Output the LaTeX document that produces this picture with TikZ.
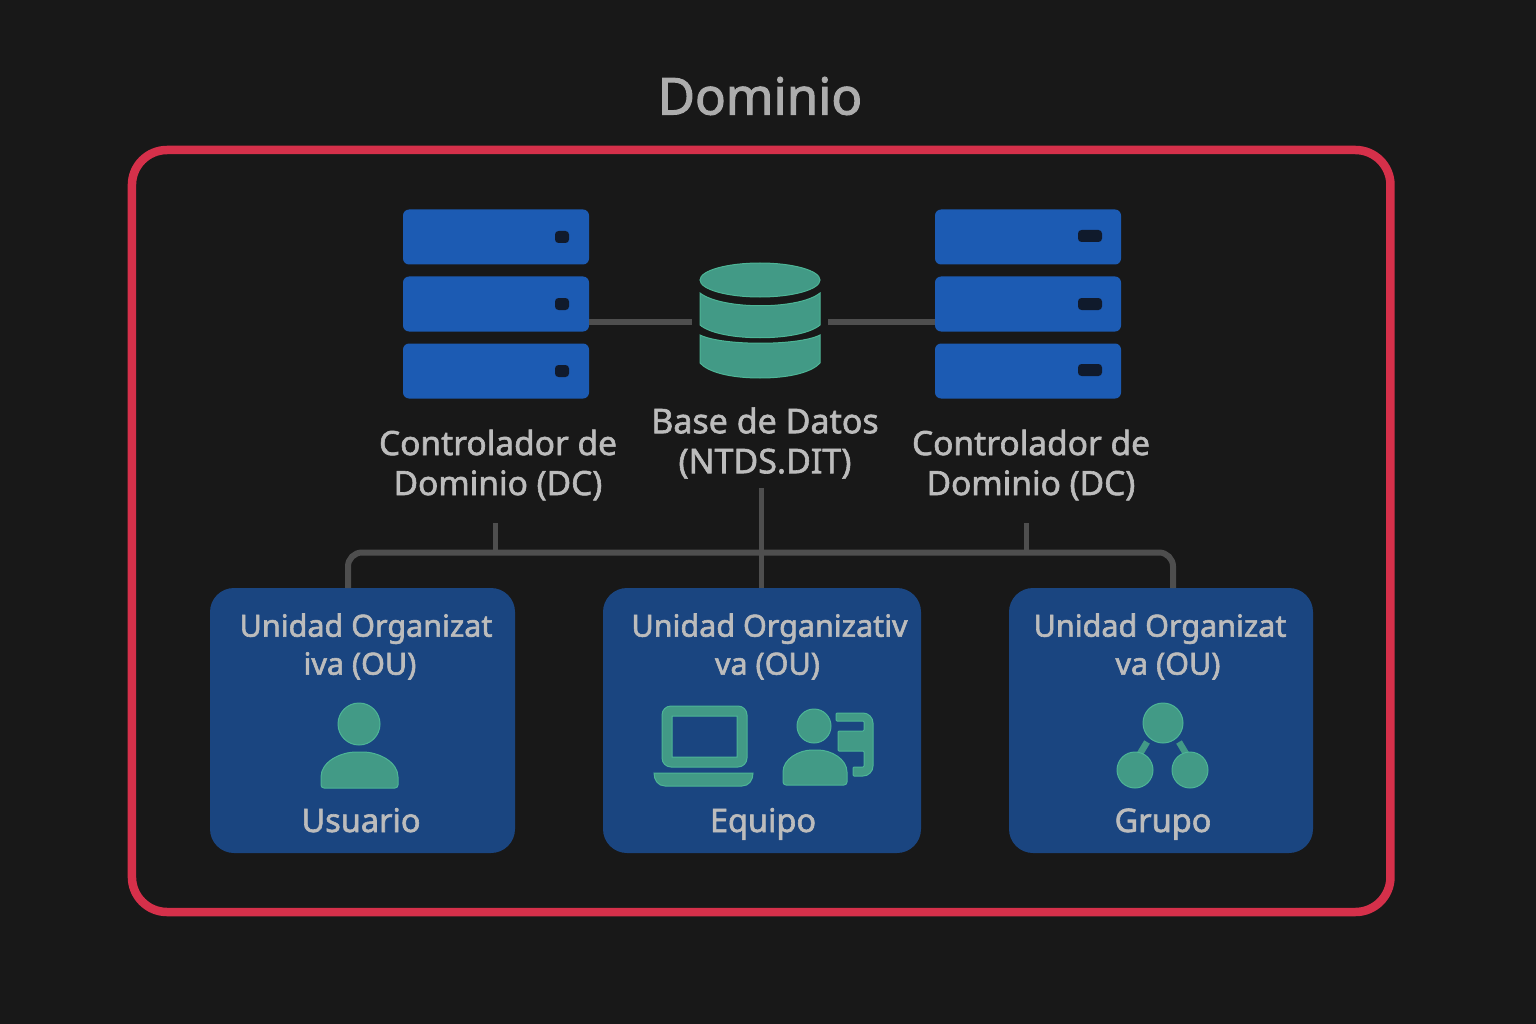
\documentclass[tikz,border=0pt]{standalone}
\usepackage{fontspec}
\setmainfont{Noto Sans}
\definecolor{bg}{HTML}{181818}
\definecolor{framered}{HTML}{D5304A}
\definecolor{srvblue}{HTML}{1C5BB3}
\definecolor{oublue}{HTML}{1A4580}
\definecolor{teal}{HTML}{429A86}
\definecolor{tealedge}{HTML}{4DB596}
\definecolor{wirec}{HTML}{4E4E4E}
\definecolor{txt}{HTML}{BCBCBC}
\definecolor{ledc}{HTML}{101A2C}
\tikzset{
  x=1pt,y=-1pt,
  heavy/.style={execute at begin node={\special{pdf:code 2 Tr #1 w}},execute at end node={\special{pdf:code 0 Tr}}},
  srv/.style={fill=srvblue,rounded corners=6pt,minimum width=186pt,minimum height=55pt,inner sep=0pt,outer sep=0pt},
  led/.style={fill=ledc,rounded corners=3.5pt,minimum height=12pt,inner sep=0pt,outer sep=0pt},
  oubox/.style={fill=oublue,rounded corners=24pt,inner sep=0pt,outer sep=0pt,minimum height=265pt},
  lbl/.style={heavy=0.6,text=txt,align=center,font=\fontsize{33.5}{40}\selectfont,inner sep=0pt},
  oulbl/.style={heavy=0.6,text=txt,align=center,font=\fontsize{30.5}{38}\selectfont,inner sep=0pt},
  itemlbl/.style={heavy=0.6,text=txt,font=\fontsize{32.5}{38}\selectfont,inner sep=0pt,anchor=base},
  wire/.style={draw=wirec,line width=5pt},
  icon/.style={fill=teal,draw=tealedge,line width=1pt},
}
\begin{document}
\begin{tikzpicture}
\useasboundingbox (0,0) rectangle (1536,1024);
\fill[bg] (0,0) rectangle (1536,1024);
\node[heavy=1,text=txt!92!black,font=\fontsize{51}{60}\selectfont,inner sep=0pt] (title) at (760,96) {Dominio};
\node[draw=framered,line width=8.5pt,rounded corners=35pt,minimum width=1258.5pt,minimum height=762pt,inner sep=0pt,outer sep=0pt] (frame) at (761.2,531) {};

% servers
\node[srv] (la) at (496,237) {};
\node[srv] (lb) at (496,304) {};
\node[srv] (lc) at (496,371) {};
\node[srv] (ra) at (1028,237) {};
\node[srv] (rb) at (1028,304) {};
\node[srv] (rc) at (1028,371) {};
\foreach \n/\y in {la1/237,lb1/304,lc1/371}
  \node[led,minimum width=14pt] (\n) at (562,\y) {};
\foreach \n/\y in {ra1/236,rb1/304,rc1/370}
  \node[led,minimum width=24pt] (\n) at (1090,\y) {};

% database
\coordinate (dbl) at (692,322);
\coordinate (dbr) at (828,322);
\draw[wire,line width=6pt] (lb.east |- dbl) -- (dbl);
\draw[wire,line width=6pt] (dbr) -- (rb.west |- dbr);
\path[icon] (700,335) .. controls (722,346) and (799,346) .. (820,335) -- (820,363) .. controls (812,372) and (790,378) .. (760,378) .. controls (730,378) and (708,372) .. (700,363) -- cycle;
\path[icon] (700,293) .. controls (722,310) and (799,310) .. (820,293) -- (820,325) .. controls (800,342) and (720,342) .. (700,325) -- cycle;
\path[icon] (760,280) ellipse [x radius=60pt,y radius=17pt];

% labels
\node[lbl] (dcl) at (498,465) {Controlador de\\Dominio (DC)};
\node[lbl] (dcr) at (1031,465) {Controlador de\\Dominio (DC)};
\node[lbl,font=\fontsize{34}{40}\selectfont] (dbt) at (765,443) {Base de Datos\\(NTDS.DIT)};

% organisational units
\node[oubox,minimum width=305pt] (ou1) at (362.5,720.5) {};
\node[oubox,minimum width=318pt] (ou2) at (762,720.5) {};
\node[oubox,minimum width=304pt] (ou3) at (1161,720.5) {};

% bus
\coordinate (tickl) at (495,523);
\coordinate (tickr) at (1026,523);
\coordinate (busl) at (348,552.5);
\coordinate (busr) at (1173,552.5);
\draw[wire] (tickl) -- (tickl |- busl);
\draw[wire] (tickr) -- (tickr |- busr);
\draw[wire] (761,488) -- (761,588) coordinate (ou2top);
\draw[wire,line width=6pt,rounded corners=14pt] (busl |- ou1.north) -- (busl) -- (busr) -- (busr |- ou3.north);

\node[oulbl] at (366,646.5) {Unidad Organizat\\\hspace*{-12pt}iva (OU)};
\node[oulbl] at (769.5,646.5) {Unidad Organizativ\\\hspace*{-4pt}va (OU)};
\node[oulbl] at (1164,646.5) {\hspace*{-8pt}Unidad Organizat\\\hspace*{8pt}va (OU)};
\node[itemlbl] (usr) at (361,832) {Usuario};
\node[itemlbl] (eqp) at (763,832) {Equipo};
\node[itemlbl] (grp) at (1163,832) {Grupo};

% user icon
\path[icon] (359,724) circle [radius=21pt];
\path[icon,rounded corners=3pt] (321,788) -- (321,780) .. controls (321,762) and (340,752) .. (359.5,752) .. controls (379,752) and (398,762) .. (398,780) -- (398,788) -- cycle;

% laptop
\path[icon,even odd rule,rounded corners=9pt] (662,706) rectangle (747,767) [sharp corners] (672,716) rectangle (737,757);
\path[icon] (654,773) -- (753,773) .. controls (753,780) and (749,786) .. (742,786) -- (665,786) .. controls (658,786) and (654,780) .. (654,773) -- cycle;

% person with device
\path[icon] (814,726) circle [radius=17pt];
\path[icon,rounded corners=3pt] (783,785) -- (783,775) .. controls (783,759) and (799,750) .. (815,750) .. controls (831,750) and (847,759) .. (847,775) -- (847,785) -- cycle;
\path[icon,rounded corners=2pt] (836,713) -- (862,713) [rounded corners=10pt] -- (873,713) -- (873,776) [rounded corners=1pt] -- (853,776) -- (853,767) -- (864,767) -- (864,751) -- (838,751) -- (838,731) -- (864,731) -- (864,721) -- (836,721) -- cycle;

% group
\draw[teal,line width=6.5pt] (1147,742) -- (1138,757);
\draw[teal,line width=6.5pt] (1179,742) -- (1188,757);
\path[icon] (1163,723) circle [radius=20pt];
\path[icon] (1135,770) circle [radius=18pt];
\path[icon] (1190,770) circle [radius=18pt];
\end{tikzpicture}
\end{document}
